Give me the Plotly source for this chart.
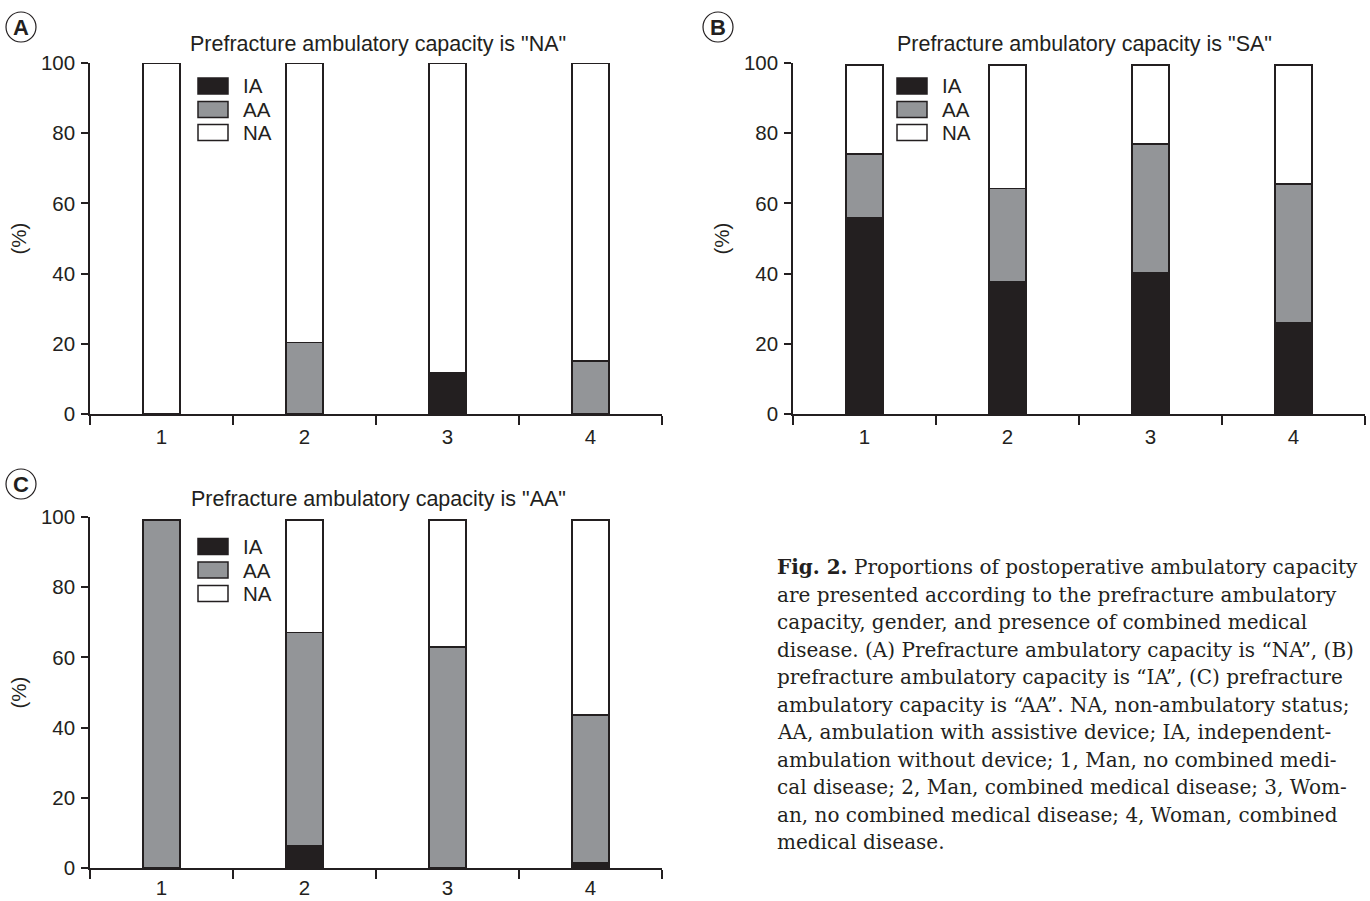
import plotly.graph_objects as go

W, H = 1370, 901

# ---------------- data ----------------
categories = ["1", "2", "3", "4"]
series_names = ["IA", "AA", "NA"]
series_colors = ["#231f20", "#939598", "#ffffff"]

# Panel A: prefracture "NA"
a_IA = [0, 0, 11.7, 0]
a_AA = [0, 20.4, 0, 15.1]
a_NA = [100, 79.6, 88.3, 84.9]

# Panel B: prefracture "SA"
b_IA = [55.8, 37.7, 40.2, 26.1]
b_AA = [18.3, 26.6, 36.7, 39.4]
b_NA = [25.4, 35.2, 22.6, 34.0]

# Panel C: prefracture "AA"
c_IA = [0, 6.3, 0, 1.4]
c_AA = [99.1, 60.8, 62.9, 42.2]
c_NA = [0, 32.0, 36.2, 55.5]

panel_titles = ['Prefracture ambulatory capacity is "NA"',
                'Prefracture ambulatory capacity is "SA"',
                'Prefracture ambulatory capacity is "AA"']
panel_letters = ["A", "B", "C"]
y_ticks = [0, 20, 40, 60, 80, 100]

caption_lines = [
    "<b>Fig. 2.</b> Proportions of postoperative ambulatory capacity",
    "are presented according to the prefracture ambulatory",
    "capacity, gender, and presence of combined medical",
    "disease. (A) Prefracture ambulatory capacity is \u201cNA\u201d, (B)",
    "prefracture ambulatory capacity is \u201cIA\u201d, (C) prefracture",
    "ambulatory capacity is \u201cAA\u201d. NA, non-ambulatory status;",
    "AA, ambulation with assistive device; IA, independent-",
    "ambulation without device; 1, Man, no combined medi-",
    "cal disease; 2, Man, combined medical disease; 3, Wom-",
    "an, no combined medical disease; 4, Woman, combined",
    "medical disease.",
]

# ---------------- layout helpers ----------------
INK = "#231f20"
SANS = "Liberation Sans, Arial, sans-serif"
SERIF = "DejaVu Serif, serif"


def fx(px):
    return px / W


def fy(py):
    return 1 - py / H


# pixel boxes of the three plot areas: (left, right, top, bottom)
boxes = [(90, 662, 63, 414), (793, 1365, 63, 414), (90, 662, 517, 868)]
x_standoff = [4, 4, 1]
title_pos = [(378, 44), (1084, 44), (378, 499)]
letter_pos = [(21, 27), (718, 27), (21, 484)]
legend_x = [(198, 228, 241), (897, 927, 940), (198, 228, 241)]
legend_rows = [(86, 109.5, 132.5), (86, 109.5, 132.5), (546.5, 570, 593.5)]
ylabel_x = [18, 721, 18]

data_sets = [(a_IA, a_AA, a_NA), (b_IA, b_AA, b_NA), (c_IA, c_AA, c_NA)]

fig = go.Figure()
annotations = []
shapes = []

for i, (vals, box) in enumerate(zip(data_sets, boxes)):
    xa = "x" if i == 0 else f"x{i+1}"
    ya = "y" if i == 0 else f"y{i+1}"
    for name, col, v in zip(series_names, series_colors, vals):
        fig.add_trace(go.Bar(
            x=categories, y=v, name=name, xaxis=xa, yaxis=ya,
            marker=dict(color=col, line=dict(color=INK, width=1.5)),
            width=0.26, showlegend=False, hoverinfo="y+name",
        ))
    l, r, t, b = box
    axkey = "xaxis" if i == 0 else f"xaxis{i+1}"
    aykey = "yaxis" if i == 0 else f"yaxis{i+1}"
    fig.layout[axkey] = dict(
        domain=[fx(l), fx(r)], anchor=ya, type="category", automargin=False,
        range=[-0.5, 3.5], showline=True, linecolor=INK, linewidth=1.5,
        ticks="outside", tickson="boundaries", ticklen=9, tickwidth=1.5,
        tickcolor=INK, showgrid=False, zeroline=False,
        ticklabelstandoff=x_standoff[i],
        tickfont=dict(family=SANS, size=20.5, color=INK), fixedrange=True,
    )
    fig.layout[aykey] = dict(
        domain=[fy(b), fy(t)], anchor=xa, range=[0, 100], automargin=False,
        tickvals=y_ticks, showline=True, linecolor=INK, linewidth=1.5,
        ticks="outside", ticklen=7, tickwidth=1.5, tickcolor=INK,
        showgrid=False, zeroline=False, ticklabelstandoff=2,
        tickfont=dict(family=SANS, size=20.5, color=INK), fixedrange=True,
    )
    # panel title
    tx, ty = title_pos[i]
    annotations.append(dict(
        x=fx(tx), y=fy(ty), xref="paper", yref="paper", text=panel_titles[i],
        showarrow=False, xanchor="center", yanchor="middle",
        font=dict(family=SANS, size=21.5, color=INK)))
    # y-axis label
    annotations.append(dict(
        x=fx(ylabel_x[i]), y=fy((t + b) / 2), xref="paper", yref="paper",
        text="(%)", textangle=-90, showarrow=False,
        xanchor="center", yanchor="middle",
        font=dict(family=SANS, size=20.5, color=INK)))
    # circled panel letter
    cx, cy = letter_pos[i]
    rr = 15
    shapes.append(dict(type="circle", xref="paper", yref="paper",
                       x0=fx(cx - rr), x1=fx(cx + rr), y0=fy(cy + rr), y1=fy(cy - rr),
                       line=dict(color=INK, width=1.2)))
    annotations.append(dict(
        x=fx(cx), y=fy(cy), xref="paper", yref="paper",
        text=f"<b>{panel_letters[i]}</b>", showarrow=False,
        xanchor="center", yanchor="middle",
        font=dict(family=SANS, size=22, color=INK)))
    # legend (drawn boxes + labels)
    lx0, lx1, ltx = legend_x[i]
    for name, col, ry in zip(series_names, series_colors, legend_rows[i]):
        shapes.append(dict(type="rect", xref="paper", yref="paper",
                           x0=fx(lx0), x1=fx(lx1), y0=fy(ry + 8), y1=fy(ry - 8),
                           fillcolor=col, line=dict(color=INK, width=1.5)))
        annotations.append(dict(
            x=fx(ltx), y=fy(ry), xref="paper", yref="paper", text=name,
            showarrow=False, xanchor="left", yanchor="middle",
            font=dict(family=SANS, size=20.5, color=INK)))

# caption
for k, line in enumerate(caption_lines):
    annotations.append(dict(
        x=fx(775), y=fy(567 + 27.5 * k), xref="paper", yref="paper",
        text=line, showarrow=False, xanchor="left", yanchor="middle",
        font=dict(family=SERIF, size=20, color=INK)))

fig.update_layout(
    template="none",
    width=W, height=H, margin=dict(l=0, r=0, t=0, b=0, pad=0, autoexpand=False),
    paper_bgcolor="white", plot_bgcolor="white",
    barmode="stack", bargap=0.74,
    annotations=annotations, shapes=shapes,
)

fig.write_html(
    "out.html",
    config={"displayModeBar": False},
    post_script="document.body.style.margin='0';document.body.style.padding='0';"
                "document.documentElement.style.overflow='hidden';",
)
